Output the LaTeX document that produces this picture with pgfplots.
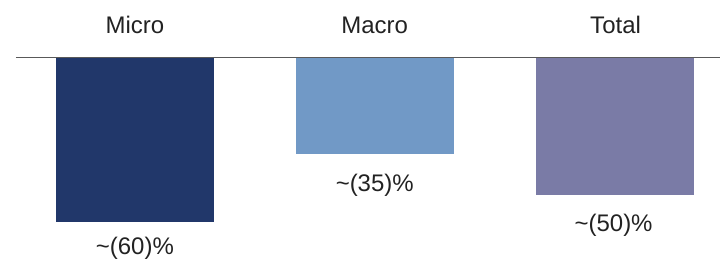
\documentclass[border=0pt]{standalone}
\usepackage{fontspec}
\setmainfont{Liberation Sans}
\usepackage{pgfplots}
\pgfplotsset{compat=1.18}
\definecolor{cMicro}{HTML}{21376A}
\definecolor{cMacro}{HTML}{7199C6}
\definecolor{cTotal}{HTML}{7A7BA6}
\definecolor{txt}{HTML}{222222}
\tikzset{lbl/.style={anchor=base, text=txt, font=\fontsize{24}{28}\selectfont}}
\begin{document}
\begin{tikzpicture}
\begin{axis}[
  width=720pt, height=259pt, scale only axis,
  xmin=0, xmax=720, ymin=-73.5, ymax=21.2,
  hide axis, clip=false,
  ybar, bar width=158pt, bar shift=0pt,
]
\addplot[fill=cMicro, draw=none] coordinates {(135,-60)};
\addplot[fill=cMacro, draw=none] coordinates {(375.5,-35)};
\addplot[fill=cTotal, draw=none] coordinates {(615,-50)};
\draw[color=black!65, line width=1pt] (axis cs:16,0) -- (axis cs:720,0);
\node[lbl] at (axis cs:135,9.1) {Micro};
\node[lbl] at (axis cs:375,9.1) {Macro};
\node[lbl] at (axis cs:616,9.1) {Total};
\node[lbl] at (axis cs:135,-72.0) {\textasciitilde(60)\%};
\node[lbl] at (axis cs:375,-49.0) {\textasciitilde(35)\%};
\node[lbl] at (axis cs:614,-63.6) {\textasciitilde(50)\%};
\path[use as bounding box] (rel axis cs:0,0) rectangle (rel axis cs:1,1);
\end{axis}
\end{tikzpicture}
\end{document}
